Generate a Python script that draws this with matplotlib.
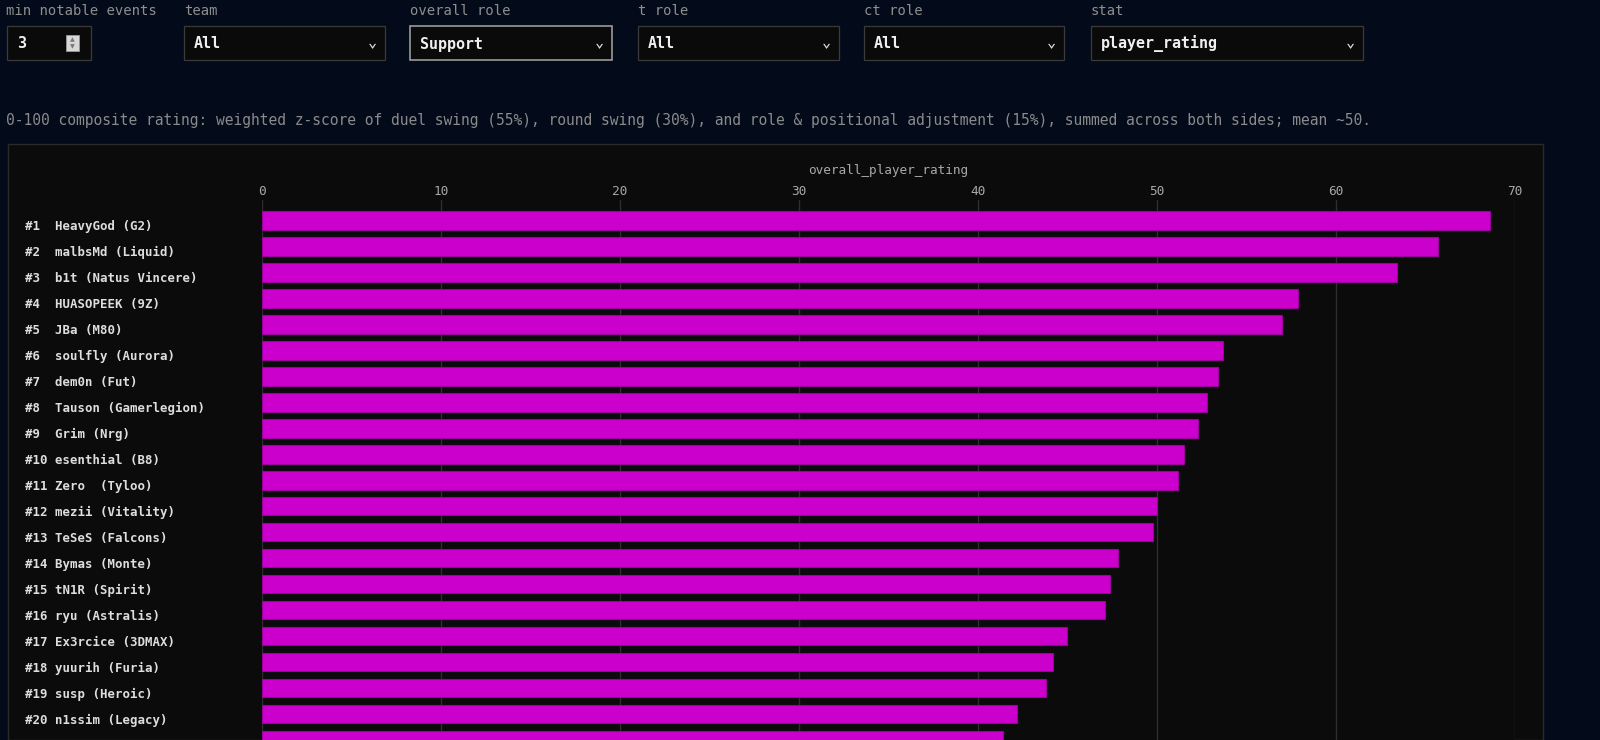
import matplotlib
matplotlib.use("Agg")
import matplotlib.pyplot as plt
import matplotlib.transforms as mtransforms
from matplotlib.patches import Rectangle
import numpy as np

# data (top 21, last one is cut off by the page)
players = ["HeavyGod", "malbsMd", "b1t", "HUASOPEEK", "JBa", "soulfly", "dem0n",
           "Tauson", "Grim", "esenthial", "Zero ", "mezii", "TeSeS", "Bymas",
           "tN1R", "ryu", "Ex3rcice", "yuurih", "susp", "n1ssim", ""]
teams = ["G2", "Liquid", "Natus Vincere", "9Z", "M80", "Aurora", "Fut",
         "Gamerlegion", "Nrg", "B8", "Tyloo", "Vitality", "Falcons", "Monte",
         "Spirit", "Astralis", "3DMAX", "Furia", "Heroic", "Legacy", ""]
ratings = [68.6, 65.7, 63.4, 57.9, 57.0, 53.7, 53.4, 52.8, 52.3, 51.5, 51.2,
           50.0, 49.8, 47.8, 47.4, 47.1, 45.0, 44.2, 43.8, 42.2, 41.4]
x_ticks = [0, 10, 20, 30, 40, 50, 60, 70]

# filter widgets above the chart
ctrl_labels = ["min notable events", "team", "overall role", "t role", "ct role", "stat"]
ctrl_values = ["3", "All", "Support", "All", "All", "player_rating"]

W, H = 1600, 740
BG = "#030b1a"
PANEL = "#0b0b0b"
MONO = "DejaVu Sans Mono"

def fx(x):
    return x / W

def fy(y):
    return 1 - y / H

fig = plt.figure(figsize=(W / 100, H / 100), dpi=100, facecolor=BG)

# --- controls row ---
lab_x = [6, 184, 410, 638, 864, 1091]
box_x = [(7, 91), (184, 385), (410, 612), (638, 839), (864, 1064), (1091, 1363)]
for i, (lab, val) in enumerate(zip(ctrl_labels, ctrl_values)):
    fig.text(fx(lab_x[i]), fy(11), lab, color="#8e8e8e", fontsize=10,
             family=MONO, va="center", ha="left")
    x0, x1 = box_x[i]
    edge = "#9a9a9a" if lab == "overall role" else "#3a3a3a"
    fig.patches.append(Rectangle((fx(x0), fy(60)), fx(x1 - x0), 34 / H,
                                 transform=fig.transFigure, facecolor="#0a0a0a",
                                 edgecolor=edge, lw=1.2 if edge != "#3a3a3a" else 0.9))
    fig.text(fx(x0 + 10), fy(44), val, color="#f0f0f0", fontsize=10.8,
             family=MONO, fontweight="bold", va="center", ha="left")
    if i == 0:
        # number spinner
        fig.patches.append(Rectangle((fx(66), fy(51)), fx(13), 16 / H,
                                     transform=fig.transFigure, facecolor="#d8d8d8",
                                     edgecolor="#999999", lw=0.6))
        fig.text(fx(72.5), fy(39.5), "▲", color="#777777", fontsize=4.5,
                 ha="center", va="center")
        fig.text(fx(72.5), fy(47), "▼", color="#777777", fontsize=4.5,
                 ha="center", va="center")
    else:
        fig.text(fx(x1 - 8), fy(43), "⌄", color="#e0e0e0", fontsize=11,
                 family=MONO, ha="right", va="center", fontweight="bold")

fig.text(fx(6), fy(121),
         "0-100 composite rating: weighted z-score of duel swing (55%), round swing (30%), "
         "and role & positional adjustment (15%), summed across both sides; mean ~50.",
         color="#8a8a8a", fontsize=10.55, family=MONO, va="center", ha="left")

# --- chart panel ---
fig.patches.append(Rectangle((fx(8), 0), fx(1543 - 8), fy(144),
                             transform=fig.transFigure, facecolor=PANEL,
                             edgecolor="#2a2a2a", lw=1, zorder=-10))

ax_left, ax_right, ax_top = 262, 1515, 200
ax = fig.add_axes([fx(ax_left), 0, fx(ax_right - ax_left), fy(ax_top)])
ax.set_zorder(5)
ax.set_facecolor(PANEL)

y = np.arange(len(ratings))
labels = [f"#{i + 1:<2} {p} ({t})" if p else "" for i, (p, t) in enumerate(zip(players, teams))]
ax.barh(y, ratings, height=0.71, color="#cc00cc", edgecolor="#9c009c", lw=0.8, zorder=2)

ax.set_xlim(0, 70)
band = 26.19
ax.set_ylim((H - 220.8) / band, -(220.8 - ax_top) / band)

ax.xaxis.tick_top()
ax.xaxis.set_label_position("top")
ax.set_xticks(x_ticks)
ax.set_xticklabels([str(t) for t in x_ticks])
ax.tick_params(axis="x", length=0, pad=1.2, labelsize=9.2, labelcolor="#a8a8a8")
for lbl in ax.get_xticklabels():
    lbl.set_family(MONO)
ax.set_xlabel("overall_player_rating", color="#a8a8a8", fontsize=9.2, family=MONO,
              labelpad=8)

ax.set_yticks(y)
ax.set_yticklabels(labels)
ax.tick_params(axis="y", length=0, pad=(ax_left - 25) * 0.72, labelsize=8.9,
               labelcolor="#dedede")
# labels sit a few pixels below the bar centres in the reference
shift = mtransforms.ScaledTranslation(0, -4.5 / 100, fig.dpi_scale_trans)
for lbl in ax.get_yticklabels():
    lbl.set_family(MONO)
    lbl.set_fontweight("bold")
    lbl.set_ha("left")
    lbl.set_transform(lbl.get_transform() + shift)

ax.grid(axis="x", color="#2e2e2e", lw=1, zorder=0)
ax.set_axisbelow(True)
for s in ax.spines.values():
    s.set_visible(False)

fig.savefig("out.png", dpi=100, facecolor=BG)
